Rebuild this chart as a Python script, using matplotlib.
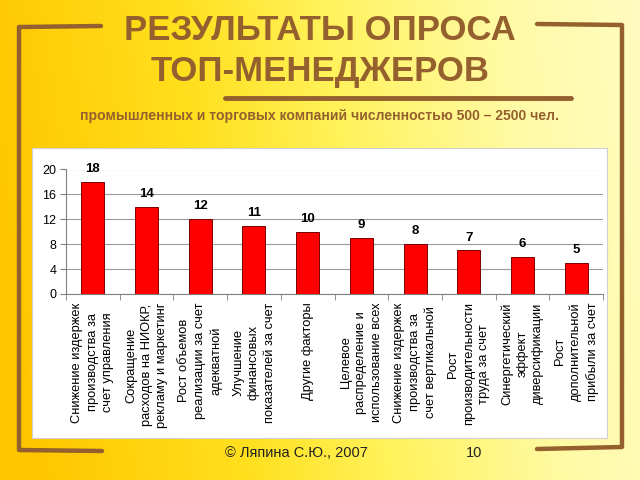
import numpy as np
import matplotlib
matplotlib.use("Agg")
import matplotlib.pyplot as plt
from matplotlib.patches import Rectangle
from matplotlib.lines import Line2D

plt.rcParams['font.family'] = ['Liberation Sans', 'DejaVu Sans']

categories = [
    "Снижение издержек\nпроизводства за\nсчет управления",
    "Сокращение\nрасходов на НИОКР,\nрекламу и маркетинг",
    "Рост объемов\nреализации за счет\nадекватной",
    "Улучшение\nфинансовых\nпоказателей за счет",
    "Другие факторы",
    "Целевое\nраспределение и\nиспользование всех",
    "Снижение издержек\nпроизводства за\nсчет вертикальной",
    "Рост\nпроизводительности\nтруда за счет",
    "Синергетический\nэффект\nдиверсификации",
    "Рост\nдополнительной\nприбыли за счет",
]
values = [18, 14, 12, 11, 10, 9, 8, 7, 6, 5]
yticks = [0, 4, 8, 12, 16, 20]

title = "РЕЗУЛЬТАТЫ ОПРОСА\nТОП-МЕНЕДЖЕРОВ"
subtitle = "промышленных и торговых компаний численностью 500 – 2500 чел."
footer = "© Ляпина С.Ю., 2007"
page = "10"

W, H = 640, 480
brown = '#94602E'

def fx(px):
    return px / W

def fy(py):
    return 1 - py / H

fig = plt.figure(figsize=(6.4, 4.8), dpi=100)

# background gradient
bg = fig.add_axes([0, 0, 1, 1])
bg.set_zorder(-5)
xs = np.linspace(0, 1, 320)
ys = np.linspace(0, 1, 240)
X, Y = np.meshgrid(xs, ys)
t = np.clip(X * 0.9 + (1 - Y) * 0.1 - 0.05, 0, 1)
stops = [0.0, 0.3, 0.5, 0.75, 1.0]
r = np.interp(t, stops, [255, 255, 255, 255, 255])
g = np.interp(t, stops, [198, 224, 242, 250, 252])
b = np.interp(t, stops, [0, 30, 90, 165, 200])
img = np.dstack([r, g, b]) / 255.0
bg.imshow(img, aspect='auto', extent=[0, 1, 0, 1], origin='upper')
bg.set_xlim(0, 1)
bg.set_ylim(0, 1)
bg.axis('off')

# brackets and underline
def line(xp, yp, lw=3.2):
    fig.add_artist(Line2D([fx(v) for v in xp], [fy(v) for v in yp],
                          color=brown, lw=lw, solid_capstyle='round',
                          solid_joinstyle='round', transform=fig.transFigure,
                          zorder=-3))

line([101, 19, 19, 102], [26, 27, 450, 451])
line([537, 622, 622, 537], [24, 25, 447, 449])
line([225, 571], [98, 98], lw=3.5)

# white chart panel
fig.add_artist(Rectangle((fx(33), fy(439)), fx(608) - fx(33), fy(148) - fy(439),
                         transform=fig.transFigure, facecolor='#c8c8c8',
                         edgecolor='none', zorder=-2))
fig.add_artist(Rectangle((fx(32), fy(438)), fx(607) - fx(32), fy(148) - fy(438),
                         transform=fig.transFigure, facecolor='white',
                         edgecolor='#d0d0d0', lw=0.8, zorder=-1))

# texts
fig.text(0.5, fy(51), title, ha='center', va='center', fontsize=25,
         fontweight='bold', color=brown, linespacing=1.32)
fig.text(fx(320), fy(116), subtitle, ha='center', va='center', fontsize=10.1,
         fontweight='bold', color=brown)
fig.text(fx(225), fy(453), footer, ha='left', va='center', fontsize=10.5,
         color='#222222')
fig.text(fx(466), fy(453), page, ha='left', va='center', fontsize=10.5,
         color='#222222')

# chart
ax = fig.add_axes([fx(66), fy(294), fx(603) - fx(66), fy(169.5) - fy(294)])
ax.set_facecolor('none')
pos = np.arange(len(values))
ax.bar(pos, values, width=0.43, color='#FF0000', edgecolor='#7a0000',
       linewidth=0.7, zorder=3)
for p, v in zip(pos, values):
    ax.text(p, v + 1.1, str(v), ha='center', va='bottom', fontsize=9.5,
            fontweight='bold', color='black')
ax.set_xlim(-0.5, len(values) - 0.5)
ax.set_ylim(0, 20)
ax.set_yticks(yticks)
ax.yaxis.grid(True, color='#9a9a9a', lw=0.8, zorder=0)
ax.set_axisbelow(True)
ax.set_xticks(pos)
ax.set_xticklabels(categories, rotation=90, fontsize=9.3, linespacing=1.4)
ax.set_xticks(np.arange(-0.5, len(values), 1.0), minor=True)
ax.tick_params(axis='x', which='major', length=0, pad=6)
ax.tick_params(axis='x', which='minor', length=4, color='#808080', direction='out')
ax.tick_params(axis='y', length=4, color='#808080', labelsize=9, pad=3)
for s in ['top', 'right']:
    ax.spines[s].set_visible(False)
for s in ['left', 'bottom']:
    ax.spines[s].set_color('#808080')

fig.savefig('out.png', dpi=100)
